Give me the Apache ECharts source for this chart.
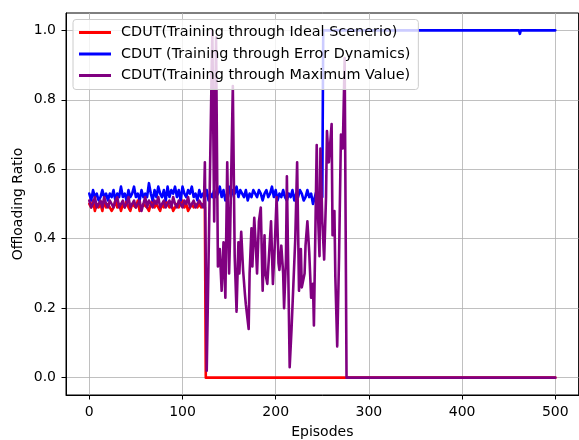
<!DOCTYPE html>
<html>
<head>
<meta charset="utf-8">
<script src="https://cdn.jsdelivr.net/npm/echarts@6/dist/echarts.min.js"></script>
<style>
  html, body { margin: 0; padding: 0; background: #ffffff; }
  #chart { width: 579px; height: 440px; }
</style>
</head>
<body>
<div id="chart"></div>
<script>
// Offloading ratio per training episode for three CDUT training schemes.

const seriesNames = [
  'CDUT(Training through Ideal Scenerio)',
  'CDUT (Training through Error Dynamics)',
  'CDUT(Training through Maximum Value)'
];

// Warm-up phase values are logged every WARMUP_STEP episodes, starting at episode 0.
const WARMUP_STEP = 2;

// Ideal scenario: episodes 0..124
const idealWarmup = [
  0.50, 0.49, 0.51, 0.48, 0.50, 0.49, 0.50, 0.48, 0.51, 0.49,
  0.50, 0.50, 0.48, 0.49, 0.51, 0.49, 0.50, 0.48, 0.50, 0.49,
  0.51, 0.49, 0.48, 0.50, 0.50, 0.49, 0.51, 0.48, 0.49, 0.50,
  0.50, 0.49, 0.48, 0.50, 0.51, 0.49, 0.50, 0.49, 0.48, 0.50,
  0.49, 0.51, 0.50, 0.49, 0.50, 0.48, 0.49, 0.50, 0.49, 0.50,
  0.51, 0.49, 0.50, 0.48, 0.49, 0.50, 0.49, 0.50, 0.49, 0.50,
  0.49, 0.50, 0.49
];
const idealTailEpisodes = [125, 500];
const idealTailRatio    = [0.00, 0.00];

// Error dynamics: episodes 0..250
const errorWarmup = [
  0.53, 0.51, 0.54, 0.52, 0.53, 0.51, 0.52, 0.54, 0.52, 0.53, 0.51,
  0.53, 0.52, 0.54, 0.51, 0.53, 0.52, 0.55, 0.52, 0.53, 0.51,
  0.54, 0.52, 0.53, 0.55, 0.52, 0.53, 0.51, 0.54, 0.52, 0.53,
  0.52, 0.56, 0.53, 0.51, 0.54, 0.52, 0.55, 0.53, 0.52, 0.54,
  0.51, 0.55, 0.52, 0.54, 0.53, 0.55, 0.52, 0.54, 0.51, 0.55,
  0.53, 0.52, 0.54, 0.53, 0.55, 0.52, 0.53, 0.51, 0.54, 0.52,
  0.53, 0.52, 0.54, 0.51, 0.53, 0.52, 0.54, 0.52, 0.53, 0.55,
  0.52, 0.54, 0.51, 0.53, 0.55, 0.52, 0.54, 0.53, 0.55, 0.52,
  0.54, 0.53, 0.52, 0.54, 0.51, 0.53, 0.52, 0.54, 0.53, 0.52,
  0.54, 0.53, 0.51, 0.53, 0.54, 0.52, 0.53, 0.55, 0.52, 0.54,
  0.51, 0.53, 0.52, 0.54, 0.52, 0.51, 0.53, 0.52, 0.54, 0.51,
  0.53, 0.52, 0.54, 0.53, 0.51, 0.52, 0.54, 0.52, 0.53, 0.50,
  0.52, 0.54, 0.51, 0.53, 0.52
];
const errorTailEpisodes = [251, 461, 462, 463, 500];
const errorTailRatio    = [1.00, 1.00, 0.99, 1.00, 1.00];

// Maximum value: episodes 0..122, then the unstable phase
const maxWarmup = [
  0.51, 0.49, 0.50, 0.52, 0.49, 0.50, 0.51, 0.49, 0.52, 0.50,
  0.49, 0.51, 0.50, 0.49, 0.51, 0.52, 0.49, 0.50, 0.51, 0.49,
  0.50, 0.52, 0.49, 0.50, 0.51, 0.49, 0.50, 0.51, 0.48, 0.50,
  0.52, 0.49, 0.51, 0.50, 0.49, 0.51, 0.50, 0.52, 0.49, 0.50,
  0.51, 0.49, 0.50, 0.51, 0.49, 0.52, 0.50, 0.49, 0.51, 0.50,
  0.49, 0.51, 0.50, 0.52, 0.49, 0.50, 0.51, 0.49, 0.50, 0.51,
  0.50, 0.49
];
const maxTailEpisodes = [
  123, 124, 126, 132, 134, 136, 138, 140, 142, 144,
  146, 148, 150, 151, 154, 156, 158, 160, 161, 163,
  165, 167, 168, 171, 172, 174, 175, 177, 179, 180,
  182, 184, 186, 188, 189, 191, 193, 195, 197, 199,
  201, 203, 204, 206, 208, 209, 211, 212, 215, 217,
  219, 221, 223, 225, 227, 228, 231, 232, 234, 236,
  238, 240, 241, 244, 245, 247, 248, 250, 252, 254,
  255, 257, 260, 261, 263, 264, 266, 268, 270, 272,
  274, 276, 500
];
const maxTailRatio = [
  0.50, 0.62, 0.02, 1.00, 0.45, 0.98, 0.32, 0.37, 0.25, 0.39,
  0.23, 0.62, 0.30, 0.40, 0.84, 0.35, 0.19, 0.39, 0.30, 0.42,
  0.31, 0.24, 0.21, 0.14, 0.30, 0.43, 0.32, 0.46, 0.36, 0.30,
  0.45, 0.49, 0.25, 0.41, 0.30, 0.27, 0.36, 0.45, 0.27, 0.38,
  0.52, 0.33, 0.31, 0.38, 0.30, 0.20, 0.34, 0.58, 0.03, 0.14,
  0.27, 0.40, 0.62, 0.25, 0.37, 0.26, 0.30, 0.38, 0.45, 0.36,
  0.23, 0.27, 0.15, 0.67, 0.50, 0.35, 0.66, 0.45, 0.34, 0.52,
  0.71, 0.62, 0.73, 0.41, 0.48, 0.29, 0.09, 0.35, 0.70, 0.66,
  0.92, 0.00, 0.00
];

const xTicks = [0, 100, 200, 300, 400, 500];
const yTicks = [0.0, 0.2, 0.4, 0.6, 0.8, 1.0];

function sampled(values, step) {
  return values.map((v, i) => [i * step, v]);
}
function paired(episodes, ratios) {
  return episodes.map((e, i) => [e, ratios[i]]);
}

const idealData = sampled(idealWarmup, WARMUP_STEP).concat(paired(idealTailEpisodes, idealTailRatio));
const errorData = sampled(errorWarmup, WARMUP_STEP).concat(paired(errorTailEpisodes, errorTailRatio));
const maxData   = sampled(maxWarmup, WARMUP_STEP).concat(paired(maxTailEpisodes, maxTailRatio));

const FONT = 'DejaVu Sans';
const colors = ['#ff0000', '#0000ff', '#800080'];

function lineSeries(name, data, color) {
  return {
    name: name,
    type: 'line',
    data: data,
    showSymbol: false,
    symbol: 'none',
    smooth: false,
    lineStyle: { color: color, width: 2.6, join: 'round', cap: 'round' },
    itemStyle: { color: color },
    emphasis: { disabled: true },
    animation: false
  };
}

const chart = echarts.init(document.getElementById('chart'), null, { renderer: 'canvas' });

chart.setOption({
  animation: false,
  backgroundColor: '#ffffff',
  color: colors,
  grid: {
    left: 66, top: 13, right: 0.4, bottom: 45,
    show: true, borderColor: '#000000', borderWidth: 1,
    backgroundColor: 'transparent',
    containLabel: false,
    outerBoundsMode: 'none'
  },
  legend: {
    orient: 'vertical',
    zlevel: 1,
    z: 10,
    left: 73, top: 19.5,
    padding: [5, 8, 6, 6],
    backgroundColor: 'rgba(255,255,255,0.8)',
    borderColor: '#cccccc', borderWidth: 1, borderRadius: 3,
    itemGap: 5.5,
    itemWidth: 32, itemHeight: 3,
    icon: 'rect',
    selectedMode: false,
    data: seriesNames,
    textStyle: {
      fontFamily: FONT, fontSize: 14.4, color: '#000000',
      lineHeight: 16, padding: [0, 0, 0, 5]
    }
  },
  xAxis: {
    type: 'value',
    min: -25, max: 525,
    name: 'Episodes',
    nameLocation: 'middle',
    nameGap: 30,
    nameMoveOverlap: false,
    nameTextStyle: { fontFamily: FONT, fontSize: 14, color: '#000000' },
    axisLine: { show: true, onZero: false, lineStyle: { color: '#000000', width: 1 } },
    axisTick: { show: true, length: 4.5, customValues: xTicks, lineStyle: { color: '#000000', width: 1 } },
    axisLabel: {
      customValues: xTicks, margin: 10,
      fontFamily: FONT, fontSize: 14, color: '#000000',
      formatter: v => String(Math.round(v))
    },
    splitLine: { show: true, lineStyle: { color: '#b0b0b0', width: 0.8 } }
  },
  yAxis: {
    type: 'value',
    min: -0.05, max: 1.05,
    name: 'Offloading Ratio',
    nameLocation: 'middle',
    nameGap: 41,
    nameMoveOverlap: false,
    nameTextStyle: { fontFamily: FONT, fontSize: 14, color: '#000000' },
    axisLine: { show: true, onZero: false, lineStyle: { color: '#000000', width: 1 } },
    axisTick: { show: true, length: 4.5, customValues: yTicks, lineStyle: { color: '#000000', width: 1 } },
    axisLabel: {
      customValues: yTicks, margin: 10,
      fontFamily: FONT, fontSize: 14, color: '#000000',
      formatter: v => v.toFixed(1)
    },
    splitLine: { show: true, lineStyle: { color: '#b0b0b0', width: 0.8 } }
  },
  series: [
    lineSeries(seriesNames[0], idealData, colors[0]),
    lineSeries(seriesNames[1], errorData, colors[1]),
    lineSeries(seriesNames[2], maxData, colors[2])
  ]
});
</script>
</body>
</html>
